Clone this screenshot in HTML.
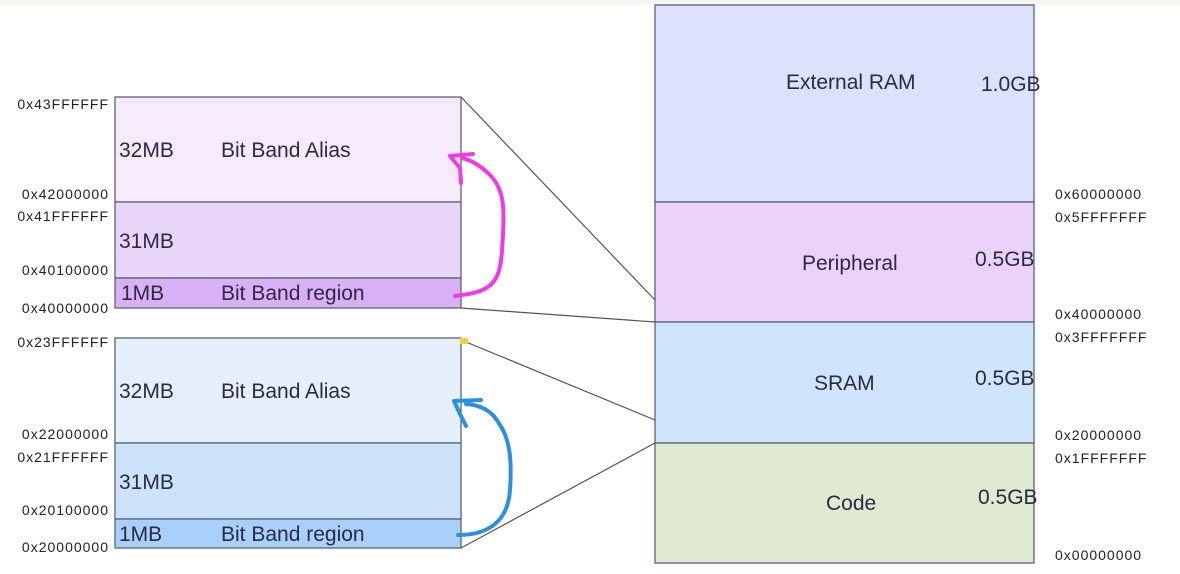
<!DOCTYPE html>
<html><head><meta charset="utf-8"><style>
html,body{margin:0;padding:0;background:#fff;}
svg{display:block;}
text{font-family:"Liberation Sans",sans-serif;}
.a{font-size:14px;fill:#222;letter-spacing:1px;}
.l{font-size:21px;fill:#2a2a44;}
</style></head><body>
<svg width="1180" height="574" viewBox="0 0 1180 574" xmlns="http://www.w3.org/2000/svg">
<rect width="1180" height="574" fill="#fff"/>
<rect x="0" y="0" width="1180" height="5" fill="#f7f6ee"/>
<g stroke="#55657a" stroke-width="1.3">
<rect x="655" y="5" width="379" height="197" fill="#dce2fb"/>
<rect x="655" y="202" width="379" height="120" fill="#ebd2fa"/>
<rect x="655" y="322" width="379" height="121" fill="#cfe5fb"/>
<rect x="655" y="443" width="379" height="120" fill="#dfead1"/>
</g>
<text class="l" x="786" y="89">External RAM</text>
<text class="l" x="981" y="91">1.0GB</text>
<text class="l" x="802" y="270">Peripheral</text>
<text class="l" x="975" y="266">0.5GB</text>
<text class="l" x="814" y="390">SRAM</text>
<text class="l" x="975" y="385">0.5GB</text>
<text class="l" x="826" y="510">Code</text>
<text class="l" x="978" y="504">0.5GB</text>
<text class="a" x="1055" y="199">0x60000000</text>
<text class="a" x="1055" y="222">0x5FFFFFFF</text>
<text class="a" x="1055" y="319">0x40000000</text>
<text class="a" x="1055" y="342">0x3FFFFFFF</text>
<text class="a" x="1055" y="440">0x20000000</text>
<text class="a" x="1055" y="463">0x1FFFFFFF</text>
<text class="a" x="1055" y="560">0x00000000</text>
<g stroke="#55657a" stroke-width="1.3">
<rect x="115" y="97" width="346" height="105" fill="#f6eafd"/>
<rect x="115" y="202" width="346" height="76" fill="#e9d5f8"/>
<rect x="115" y="278" width="346" height="30" fill="#d9b0f6"/>
<rect x="115" y="338" width="346" height="105" fill="#e6f0fc"/>
<rect x="115" y="443" width="346" height="76" fill="#cce3fb"/>
<rect x="115" y="519" width="346" height="29" fill="#a9d0fa"/>
</g>
<text class="l" x="119" y="157">32MB</text>
<text class="l" x="221" y="157">Bit Band Alias</text>
<text class="l" x="119" y="248">31MB</text>
<text class="l" x="121" y="300">1MB</text>
<text class="l" x="221" y="300">Bit Band region</text>
<text class="l" x="119" y="398">32MB</text>
<text class="l" x="221" y="398">Bit Band Alias</text>
<text class="l" x="119" y="489">31MB</text>
<text class="l" x="119" y="541">1MB</text>
<text class="l" x="221" y="541">Bit Band region</text>
<g text-anchor="end">
<text class="a" x="109" y="109">0x43FFFFFF</text>
<text class="a" x="109" y="199">0x42000000</text>
<text class="a" x="109" y="221">0x41FFFFFF</text>
<text class="a" x="109" y="275">0x40100000</text>
<text class="a" x="109" y="313">0x40000000</text>
<text class="a" x="109" y="347">0x23FFFFFF</text>
<text class="a" x="109" y="439">0x22000000</text>
<text class="a" x="109" y="462">0x21FFFFFF</text>
<text class="a" x="109" y="515">0x20100000</text>
<text class="a" x="109" y="552">0x20000000</text>
</g>
<g stroke="#555" stroke-width="1.2" fill="none">
<line x1="461" y1="97" x2="655" y2="300"/>
<line x1="461" y1="308" x2="655" y2="322"/>
<line x1="466" y1="342" x2="655" y2="420"/>
<line x1="461" y1="548" x2="655" y2="443"/>
</g>
<rect x="460" y="338" width="8" height="6" fill="#f2d23a"/>
<g fill="none" stroke-width="4" stroke-linecap="round" stroke-linejoin="round">
<path d="M455 296 C490 292 500 285 502 250 C505 210 505 190 490 175 C480 165 470 160 462 158" stroke="#f03ae6"/>
<path d="M473 154 L450 156 L460 168 L461 183" stroke="#f03ae6"/>
<path d="M458 535 C490 535 508 520 510 490 C512 460 510 440 500 425 C492 410 480 405 466 404" stroke="#2e8fe0"/>
<path d="M481 400 L454 401 L460 414 L466 426" stroke="#2e8fe0"/>
</g>
</svg>
</body></html>
